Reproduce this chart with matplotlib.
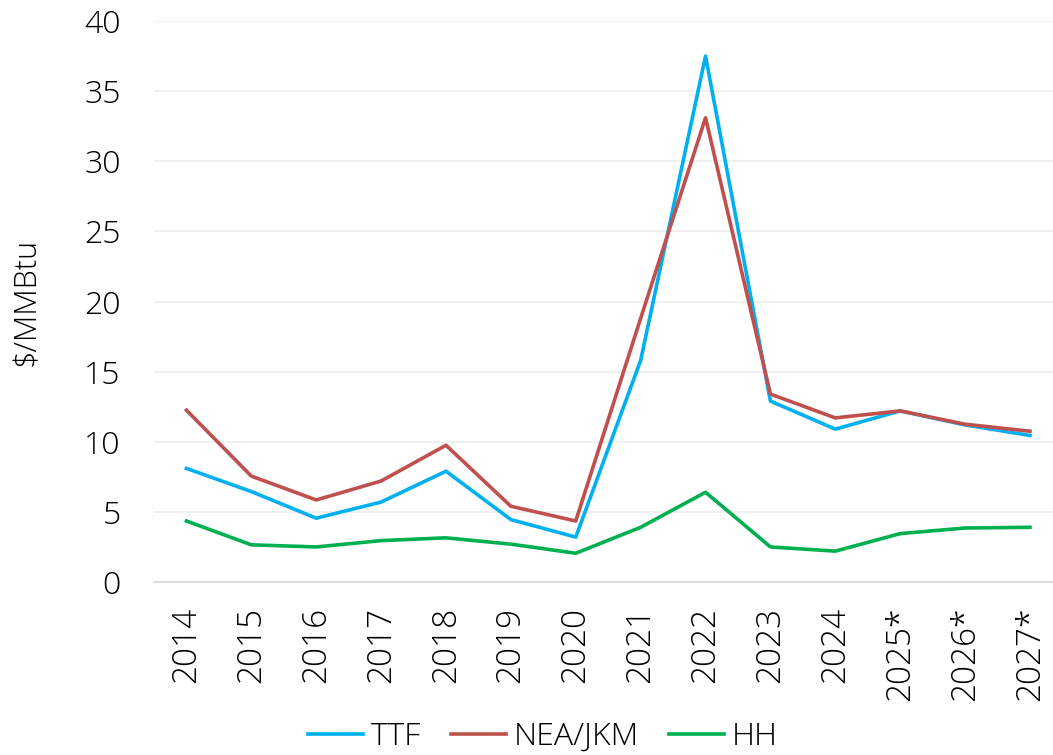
import matplotlib.pyplot as plt

# Dane
years = ["2014", "2015", "2016", "2017", "2018", "2019", "2020",
         "2021", "2022", "2023", "2024", "2025*", "2026*", "2027*"]
ttf = [8.1, 6.45, 4.55, 5.7, 7.9, 4.45, 3.2, 15.8, 37.5, 12.9, 10.9, 12.2, 11.2, 10.45]
nea_jkm = [12.25, 7.55, 5.85, 7.2, 9.75, 5.4, 4.35, 18.8, 33.1, 13.4, 11.7, 12.2, 11.25, 10.75]
hh = [4.35, 2.65, 2.5, 2.95, 3.15, 2.7, 2.05, 3.9, 6.4, 2.5, 2.2, 3.45, 3.85, 3.9]

plt.rcParams['font.family'] = ['Open Sans', 'DejaVu Sans']
plt.rcParams['font.weight'] = 'light'
plt.rcParams['axes.labelweight'] = 'light'
fs = 23

fig = plt.figure(figsize=(10.53, 7.55), dpi=100)
ax = fig.add_axes([154 / 1053, 1 - 582 / 755, 1 - 154 / 1053, (582 - 21) / 755])

x = range(len(years))
ax.plot(x, ttf, color='#00B0F0', lw=2.6, label='TTF')
ax.plot(x, nea_jkm, color='#C0504D', lw=2.6, label='NEA/JKM')
ax.plot(x, hh, color='#00B050', lw=2.6, label='HH')

ax.set_ylim(0, 40)
ax.set_yticks(range(0, 41, 5))
ax.set_xlim(-0.5, 13.355)
ax.set_xticks(list(x))
ax.set_xticklabels(years, rotation=90, fontsize=24)
ax.tick_params(axis='y', labelsize=fs, length=0, pad=24)
ax.tick_params(axis='x', length=0, pad=18)
ax.grid(axis='y', color='#efefef', lw=1.3)
ax.set_axisbelow(True)
for s in ['top', 'right', 'left']:
    ax.spines[s].set_visible(False)
ax.spines['bottom'].set_color('#d9d9d9')
ax.spines['bottom'].set_linewidth(1.3)
ax.set_ylabel("$/MMBtu", fontsize=22, fontweight='light', labelpad=30)

fig.legend(loc='center', bbox_to_anchor=(543 / 1053, 1 - 737 / 755), ncol=3,
           frameon=False, fontsize=fs, handlelength=1.7, columnspacing=0.95,
           handletextpad=0.25)

plt.savefig("out.png", dpi=100)
